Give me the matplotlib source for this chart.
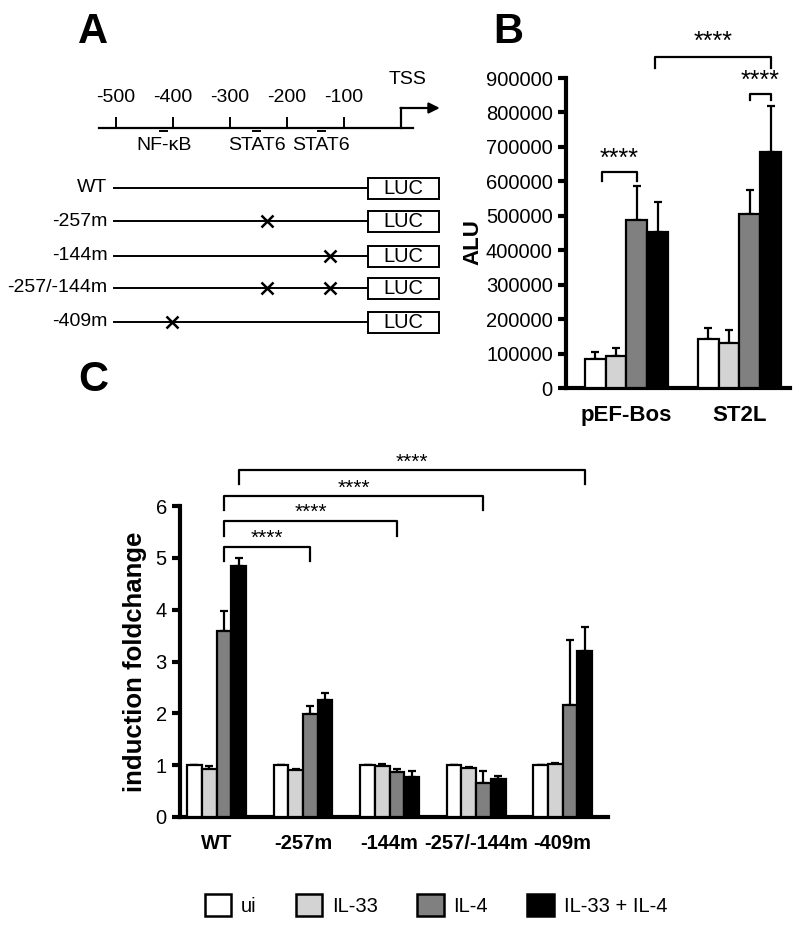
import numpy as np
import matplotlib
matplotlib.use('Agg')
import matplotlib.pyplot as plt
from matplotlib.patches import Rectangle, Patch

plt.rcParams['font.family'] = ['Liberation Sans', 'DejaVu Sans']

# treatments / colours
treatments = ['ui', 'IL-33', 'IL-4', 'IL-33 + IL-4']
colors = ['white', '#d3d3d3', '#808080', 'black']

# panel B data (ALU)
groups_b = ['pEF-Bos', 'ST2L']
alu_mean = [[83000, 94000, 487000, 454000],
            [141000, 132000, 504000, 685000]]
alu_top = [[104000, 116000, 587000, 541000],
           [175000, 167000, 574000, 818000]]

# panel C data (induction fold change)
groups_c = ['WT', '-257m', '-144m', '-257/-144m', '-409m']
fold_mean = [[1.0, 0.92, 3.59, 4.84],
             [1.0, 0.90, 1.99, 2.25],
             [1.0, 0.98, 0.87, 0.77],
             [1.0, 0.94, 0.66, 0.74],
             [1.0, 1.03, 2.17, 3.20]]
fold_top = [[1.0, 0.98, 3.97, 5.00],
            [1.0, 0.93, 2.15, 2.40],
            [1.0, 1.02, 0.92, 0.88],
            [1.0, 0.96, 0.89, 0.80],
            [1.0, 1.04, 3.42, 3.67]]

# panel A schematic
scale_ticks = [-500, -400, -300, -200, -100]
sites = ['NF-κB', 'STAT6', 'STAT6']
site_pos = [-416, -253, -140]
constructs = ['WT', '-257m', '-144m', '-257/-144m', '-409m']
mut_marks = [[], [-235], [-125], [-235, -125], [-402]]

fig = plt.figure(figsize=(8, 9.32), dpi=100)


def bar_panel(ax, means, tops, spacing):
    means = np.array(means)
    tops = np.array(tops)
    centers = np.arange(len(means)) * spacing
    for i in range(4):
        x = centers + (i - 1.5)
        ax.bar(x, means[:, i], width=1.0, color=colors[i], edgecolor='black',
               linewidth=1.6, zorder=3)
        up = np.clip(tops[:, i] - means[:, i], 0, None)
        ax.errorbar(x, means[:, i], yerr=[np.zeros_like(up), up], fmt='none',
                    ecolor='black', elinewidth=1.6, capsize=3, capthick=1.6,
                    zorder=2)
    for s in ['top', 'right']:
        ax.spines[s].set_visible(False)
    for s in ['left', 'bottom']:
        ax.spines[s].set_linewidth(3)
    ax.tick_params(axis='y', width=3, length=6, labelsize=14.5)
    ax.tick_params(axis='x', length=0, labelsize=14.5, pad=12)
    return centers


def bracket(ax, x1, x2, y, drop, label, star_y, size):
    ax.plot([x1, x1, x2, x2], [y - drop, y, y, y - drop], color='black',
            lw=1.6, clip_on=False)
    ax.text((x1 + x2) / 2, star_y, label, ha='center', va='center',
            fontsize=size, clip_on=False)


# ---------------- panel B ----------------
axb = fig.add_axes([566 / 800, 1 - 388 / 932, 224 / 800, 310 / 932])
cb = bar_panel(axb, alu_mean, alu_top, 5.46)
axb.set_xlim(-2.92, 7.9)
axb.set_ylim(0, 900000)
axb.set_yticks(np.arange(0, 900001, 100000))
axb.set_xticks(cb)
axb.set_xticklabels(groups_b, fontweight='bold', fontsize=16)
axb.set_ylabel('ALU', fontsize=16, fontweight='bold')
axb.yaxis.set_label_coords(-0.37, 0.47)
bracket(axb, cb[0] - 1.2, cb[0] + 0.5, 627000, 25000, '****', 665000, 18)
bracket(axb, cb[1] + 0.5, cb[1] + 1.5, 854000, 17000, '****', 893000, 18)
bracket(axb, cb[0] + 1.4, cb[1] + 1.5, 962000, 32000, '****', 1005000, 18)

# ---------------- panel C ----------------
axc = fig.add_axes([180 / 800, 1 - 817 / 932, 428 / 800, 311 / 932])
cc = bar_panel(axc, fold_mean, fold_top, 5.88)
axc.set_xlim(-2.48, 26.6)
axc.set_ylim(0, 6)
axc.set_yticks(range(0, 7))
axc.set_xticks(cc)
axc.set_xticklabels(groups_c, fontweight='bold')
axc.set_ylabel('induction foldchange', fontsize=18.5, fontweight='bold',
               labelpad=6)
bracket(axc, cc[0] + 0.5, cc[1] + 0.5, 5.21, 0.27, '****', 5.37, 15)
bracket(axc, cc[0] + 0.5, cc[2] + 0.5, 5.71, 0.28, '****', 5.87, 15)
bracket(axc, cc[0] + 0.5, cc[3] + 0.5, 6.19, 0.26, '****', 6.35, 15)
bracket(axc, cc[0] + 1.5, cc[4] + 1.5, 6.69, 0.26, '****', 6.84, 15)

# ---------------- panel A ----------------
axa = fig.add_axes([0, 1 - 340 / 932, 460 / 800, 340 / 932])
axa.set_xlim(-703.5, 103.5)
axa.set_ylim(340, 0)
axa.axis('off')

line_y = 128
axa.plot([-530, 21], [line_y, line_y], color='black', lw=1.6)
for t in scale_ticks:
    axa.plot([t, t], [line_y, line_y - 10], color='black', lw=1.4)
    axa.text(t, 97, str(t), ha='center', va='center', fontsize=14)
for name, p in zip(sites, site_pos):
    axa.plot([p - 6, p + 6], [line_y + 2.5, line_y + 2.5], color='black', lw=1.4)
    axa.text(p, 146, name, ha='center', va='center', fontsize=14)
axa.plot([0, 0], [line_y, 108], color='black', lw=1.6)
axa.annotate('', xy=(68, 108), xytext=(-1, 108),
             arrowprops=dict(arrowstyle='-|>', color='black', lw=1.6,
                             mutation_scale=16, shrinkA=0, shrinkB=0))
axa.text(12, 79, 'TSS', ha='center', va='center', fontsize=14)

row_y = [188, 221, 256, 288, 322]
for name, y, marks in zip(constructs, row_y, mut_marks):
    axa.plot([-503, -58], [y, y], color='black', lw=1.4)
    axa.add_patch(Rectangle((-58, y - 10.5), 125, 21, facecolor='white',
                            edgecolor='black', lw=1.4, zorder=3))
    axa.text(4.5, y + 0.5, 'LUC', ha='center', va='center', fontsize=14.5,
             zorder=4)
    axa.text(-515, y, name, ha='right', va='center', fontsize=14)
    for m in marks:
        axa.plot([m], [y], marker='x', color='black', markersize=9,
                 markeredgewidth=1.8, zorder=4)

# panel letters
fig.text(93 / 800, 1 - 32 / 932, 'A', ha='center', va='center', fontsize=30,
         fontweight='bold')
fig.text(508 / 800, 1 - 32 / 932, 'B', ha='center', va='center', fontsize=30,
         fontweight='bold')
fig.text(93 / 800, 1 - 380 / 932, 'C', ha='center', va='center', fontsize=30,
         fontweight='bold')

# legend
handles = [Patch(facecolor=c, edgecolor='black', linewidth=1.8) for c in colors]
fig.legend(handles, treatments, loc='center', bbox_to_anchor=(0.545, 1 - 905 / 932),
           ncol=4, frameon=False, fontsize=14.5, handlelength=1.3,
           handleheight=1.3, columnspacing=1.95, handletextpad=0.5)

fig.savefig('out.png', dpi=100)
